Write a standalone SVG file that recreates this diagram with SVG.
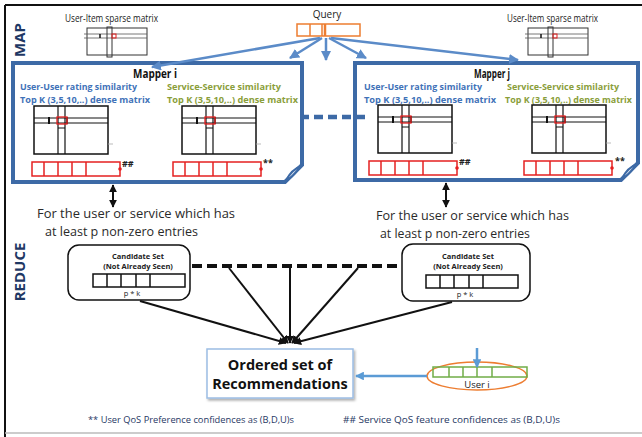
<svg xmlns="http://www.w3.org/2000/svg" xmlns:xlink="http://www.w3.org/1999/xlink" width="642" height="437" viewBox="0 0 642 437">
<style>
text{font-family:"Open Sans","Liberation Sans",sans-serif}
.mapper{fill:#fff;stroke:#3D6AA6;stroke-width:4;stroke-linejoin:miter}
.flap{fill:#e3ebf5;stroke:#3D6AA6;stroke-width:2}
.qa{stroke:#5B8BC8;stroke-width:2.5;fill:none}
.blk{stroke:#111;stroke-width:2;fill:none}
.title{font-size:12.5px;font-weight:bold;fill:#111}
.blue{font-size:9.5px;font-weight:bold;fill:#3F72B8}
.green{font-size:9.5px;font-weight:bold;fill:#8A9E3A}
.lbl{font-size:10px;fill:#222}
.body{font-size:12.5px;fill:#2a2a2a}
.cand{font-size:7.5px;font-weight:bold;fill:#222;text-anchor:middle}
.foot{font-size:9.5px;fill:#1F3864}
.side{font-size:15px;font-weight:bold;fill:#1F3864;text-anchor:middle}
.mk{font-size:9px;font-weight:bold;fill:#222}
</style>
<defs>
<marker id="ab" viewBox="0 0 10 10" refX="9" refY="5" markerWidth="4" markerHeight="4" orient="auto-start-reverse"><path d="M0,0 L10,5 L0,10 Z" fill="#5B8BC8"/></marker>
<marker id="ak" viewBox="0 0 10 10" refX="9" refY="5" markerWidth="4" markerHeight="4" orient="auto-start-reverse"><path d="M0,0 L10,5 L0,10 Z" fill="#111"/></marker>
<marker id="al" viewBox="0 0 10 10" refX="9" refY="5" markerWidth="3.5" markerHeight="3.5" orient="auto-start-reverse"><path d="M0,0 L10,5 L0,10 Z" fill="#5B9BD5"/></marker>
<g id="mat">
<rect x="0" y="0" width="74" height="48" fill="#fff" stroke="#111" stroke-width="1.5"/>
<line x1="0" y1="12" x2="74" y2="12" stroke="#111" stroke-width="1"/>
<line x1="0" y1="17" x2="74" y2="17" stroke="#111" stroke-width="1"/>
<line x1="24" y1="0" x2="24" y2="48" stroke="#111" stroke-width="1.2"/>
<line x1="31" y1="0" x2="31" y2="48" stroke="#111" stroke-width="1.2"/>
<line x1="24" y1="22" x2="31" y2="22" stroke="#111" stroke-width="1"/>
<line x1="15" y1="11" x2="15" y2="18" stroke="#111" stroke-width="2"/>
<line x1="33" y1="11" x2="33" y2="18" stroke="#111" stroke-width="1.5"/>
<rect x="23" y="11" width="10" height="7" fill="none" stroke="#e52020" stroke-width="1.3"/>
<line x1="74" y1="38" x2="79" y2="38" stroke="#aaa" stroke-width="0.8"/>
</g>
<g id="vec">
<rect x="0" y="0" width="88" height="14" fill="#fff" stroke="#e52020" stroke-width="1.5"/>
<line x1="12" y1="0" x2="12" y2="14" stroke="#e52020" stroke-width="1.5"/>
<line x1="26" y1="0" x2="26" y2="14" stroke="#e52020" stroke-width="1.5"/>
<line x1="40" y1="0" x2="40" y2="14" stroke="#e52020" stroke-width="1.5"/>
<line x1="54" y1="0" x2="54" y2="14" stroke="#e52020" stroke-width="1.5"/>
<circle cx="88" cy="7" r="1.8" fill="#e52020"/>
</g>
<g id="cvec">
<rect x="0" y="0" width="92" height="13" fill="#fff" stroke="#111" stroke-width="1.5"/>
<line x1="14" y1="0" x2="14" y2="13" stroke="#111" stroke-width="1.5"/>
<line x1="28" y1="0" x2="28" y2="13" stroke="#111" stroke-width="1.5"/>
<line x1="43" y1="0" x2="43" y2="13" stroke="#111" stroke-width="1.5"/>
<line x1="57" y1="0" x2="57" y2="13" stroke="#111" stroke-width="1.5"/>
</g>
<g id="sparse">
<rect x="0" y="0" width="60" height="27" fill="#fff" stroke="#333" stroke-width="1"/>
<line x1="-3" y1="6" x2="60" y2="6" stroke="#555" stroke-width="0.8"/>
<line x1="-3" y1="10" x2="60" y2="10" stroke="#555" stroke-width="0.8"/>
<rect x="20" y="-1" width="5" height="30" fill="none" stroke="#333" stroke-width="1"/>
<line x1="13" y1="6" x2="13" y2="10" stroke="#111" stroke-width="1.5"/>
<rect x="25" y="6" width="4" height="4" fill="none" stroke="#e52020" stroke-width="1"/>
</g>
<filter id="sh" x="-10%" y="-10%" width="130%" height="140%"><feDropShadow dx="1.5" dy="2" stdDeviation="1.2" flood-color="#000" flood-opacity="0.3"/></filter>
</defs>

<rect x="0" y="0" width="642" height="437" fill="#fff"/>
<line x1="5" y1="5" x2="642" y2="5" stroke="#111" stroke-width="2"/>
<line x1="5" y1="5" x2="5" y2="437" stroke="#111" stroke-width="2"/>
<line x1="5" y1="433" x2="642" y2="433" stroke="#bbb" stroke-width="1.5"/>

<text class="side" transform="translate(25,40) rotate(-90)">MAP</text>
<text class="side" transform="translate(25,272) rotate(-90)">REDUCE</text>

<g id="sparse-left">
<text class="lbl" x="65" y="22" textLength="93" lengthAdjust="spacingAndGlyphs">User-Item sparse matrix</text>
<use xlink:href="#sparse" x="87" y="28"/>
</g>
<g id="sparse-right">
<text class="lbl" x="507" y="22" textLength="91" lengthAdjust="spacingAndGlyphs">User-Item sparse matrix</text>
<use xlink:href="#sparse" x="528" y="28"/>
</g>

<g id="query">
<text class="lbl" x="327" y="18" text-anchor="middle">Query</text>
<rect x="297" y="24" width="63" height="12" fill="#fff" stroke="#ED7D31" stroke-width="1.5"/>
<line x1="310" y1="24" x2="310" y2="36" stroke="#ED7D31" stroke-width="1.5"/>
<line x1="322" y1="24" x2="322" y2="36" stroke="#ED7D31" stroke-width="1.5"/>
<line x1="325" y1="24" x2="325" y2="36" stroke="#ED7D31" stroke-width="2.5"/>
</g>

<g id="mapper-i">
<path class="mapper" d="M13,63 H302 V165 L285,182 H13 Z"/>
<path class="flap" d="M286,181 C289,174 293,169 301,166 C296,172 294,176 286,181 Z"/>
<text class="title" x="133" y="78" textLength="44" lengthAdjust="spacingAndGlyphs">Mapper i</text>
<text class="blue" x="20" y="90" textLength="117" lengthAdjust="spacingAndGlyphs">User-User rating similarity</text>
<text class="blue" x="20" y="103" textLength="130" lengthAdjust="spacingAndGlyphs">Top K (3,5,10,..) dense matrix</text>
<text class="green" x="167" y="90" textLength="114" lengthAdjust="spacingAndGlyphs">Service-Service similarity</text>
<text class="green" x="167" y="103" textLength="131" lengthAdjust="spacingAndGlyphs">Top K (3,5,10,..) dense matrix</text>
<use xlink:href="#mat" x="34" y="106"/>
<use xlink:href="#mat" x="182" y="106"/>
<use xlink:href="#vec" x="32" y="162"/>
<use xlink:href="#vec" x="173" y="162"/>
<text class="mk" x="122" y="167">##</text>
<text class="mk" x="263" y="166">**</text>
</g>

<g id="mapper-j">
<path class="mapper" d="M355,63 H638 V163 L621,180 H355 Z"/>
<path class="flap" d="M622,179 C625,172 629,167 637,164 C632,170 630,174 622,179 Z"/>
<text class="title" x="474" y="78" textLength="36" lengthAdjust="spacingAndGlyphs">Mapper j</text>
<text class="blue" x="364" y="90" textLength="118" lengthAdjust="spacingAndGlyphs">User-User rating similarity</text>
<text class="blue" x="364" y="103" textLength="132" lengthAdjust="spacingAndGlyphs">Top K (3,5,10,..) dense matrix</text>
<text class="green" x="507" y="90" textLength="112" lengthAdjust="spacingAndGlyphs">Service-Service similarity</text>
<text class="green" x="505" y="103" textLength="127" lengthAdjust="spacingAndGlyphs">Top K (3,5,10,..) dense matrix</text>
<use xlink:href="#mat" x="378" y="105"/>
<use xlink:href="#mat" x="532" y="105"/>
<use xlink:href="#vec" x="369" y="161"/>
<use xlink:href="#vec" x="524" y="161"/>
<text class="mk" x="459" y="165">##</text>
<text class="mk" x="615" y="164">**</text>
</g>

<g id="cand-left">
<rect x="68" y="245" width="122" height="55" rx="11" fill="#fff" stroke="#111" stroke-width="1.5"/>
<text class="cand" x="138" y="259">Candidate Set</text>
<text class="cand" x="138" y="269">(Not Already Seen)</text>
<use xlink:href="#cvec" x="93" y="274"/>
<text class="cand" x="132" y="296" style="font-weight:normal">p * k</text>
</g>

<g id="cand-right">
<rect x="402" y="244" width="128" height="57" rx="11" fill="#fff" stroke="#111" stroke-width="1.5"/>
<text class="cand" x="468" y="259">Candidate Set</text>
<text class="cand" x="468" y="269">(Not Already Seen)</text>
<use xlink:href="#cvec" x="426" y="275"/>
<text class="cand" x="465" y="297" style="font-weight:normal">p * k</text>
</g>

<g id="ordered">
<rect x="207" y="349" width="146" height="49" fill="#fff" stroke="#9CBDE3" stroke-width="1.5" filter="url(#sh)"/>
<text x="280" y="370" text-anchor="middle" font-size="14.5" font-weight="bold" fill="#111">Ordered set of</text>
<text x="280" y="389" text-anchor="middle" font-size="14.5" font-weight="bold" fill="#111">Recommendations</text>
</g>

<g id="user-i">
<ellipse cx="477" cy="376" rx="50" ry="14" fill="none" stroke="#ED7D31" stroke-width="1.5"/>
<rect x="433" y="367" width="94" height="10" fill="none" stroke="#70AD47" stroke-width="1.5"/>
<line x1="449" y1="367" x2="449" y2="377" stroke="#70AD47" stroke-width="1.5"/>
<line x1="463" y1="367" x2="463" y2="377" stroke="#70AD47" stroke-width="1.5"/>
<line x1="477" y1="367" x2="477" y2="377" stroke="#70AD47" stroke-width="1.5"/>
<line x1="492" y1="367" x2="492" y2="377" stroke="#70AD47" stroke-width="1.5"/>
<text x="477" y="388" text-anchor="middle" font-size="9.5" fill="#222">User i</text>
</g>

<g id="connectors">
<line class="qa" x1="320" y1="38" x2="152" y2="67" marker-end="url(#ab)"/>
<line class="qa" x1="322" y1="38" x2="290" y2="58" marker-end="url(#ab)"/>
<line class="qa" x1="326" y1="38" x2="326" y2="60" marker-end="url(#ab)"/>
<line class="qa" x1="329" y1="38" x2="366" y2="58" marker-end="url(#ab)"/>
<line class="qa" x1="331" y1="38" x2="518" y2="60" marker-end="url(#ab)"/>
<line x1="300" y1="117" x2="370" y2="117" stroke="#3D6AA6" stroke-width="4.5" stroke-dasharray="9,5"/>
<line class="blk" x1="113" y1="185" x2="113" y2="207" stroke-width="2.5" marker-start="url(#ak)" marker-end="url(#ak)"/>
<line class="blk" x1="446" y1="183" x2="446" y2="207" stroke-width="2.5" marker-start="url(#ak)" marker-end="url(#ak)"/>
<line x1="192" y1="266" x2="401" y2="266" stroke="#111" stroke-width="4" stroke-dasharray="10,5"/>
<line class="blk" x1="140" y1="301" x2="286" y2="343" marker-end="url(#ak)"/>
<line class="blk" x1="229" y1="268" x2="288" y2="343" marker-end="url(#ak)"/>
<line class="blk" x1="290" y1="268" x2="290" y2="343" marker-end="url(#ak)"/>
<line class="blk" x1="358" y1="268" x2="292" y2="343" marker-end="url(#ak)"/>
<line class="blk" x1="452" y1="302" x2="294" y2="343" marker-end="url(#ak)"/>
<line x1="427" y1="376" x2="356" y2="376" stroke="#5B9BD5" stroke-width="2.5" marker-end="url(#al)"/>
<line x1="477" y1="348" x2="477" y2="367" stroke="#5B9BD5" stroke-width="2.5" marker-end="url(#al)"/>
</g>

<g id="notes">
<text class="body" x="37" y="218" textLength="198" lengthAdjust="spacingAndGlyphs">For the user or service which has</text>
<text class="body" x="45" y="236" textLength="153" lengthAdjust="spacingAndGlyphs">at least p non-zero entries</text>
<text class="body" x="376" y="220" textLength="193" lengthAdjust="spacingAndGlyphs">For the user or service which has</text>
<text class="body" x="380" y="238" textLength="150" lengthAdjust="spacingAndGlyphs">at least p non-zero entries</text>
<text class="foot" x="88" y="423" textLength="206" lengthAdjust="spacingAndGlyphs">**  User QoS Preference confidences as (B,D,U)s</text>
<text class="foot" x="343" y="423" textLength="217" lengthAdjust="spacingAndGlyphs">##  Service QoS feature confidences as (B,D,U)s</text>
</g>
</svg>
